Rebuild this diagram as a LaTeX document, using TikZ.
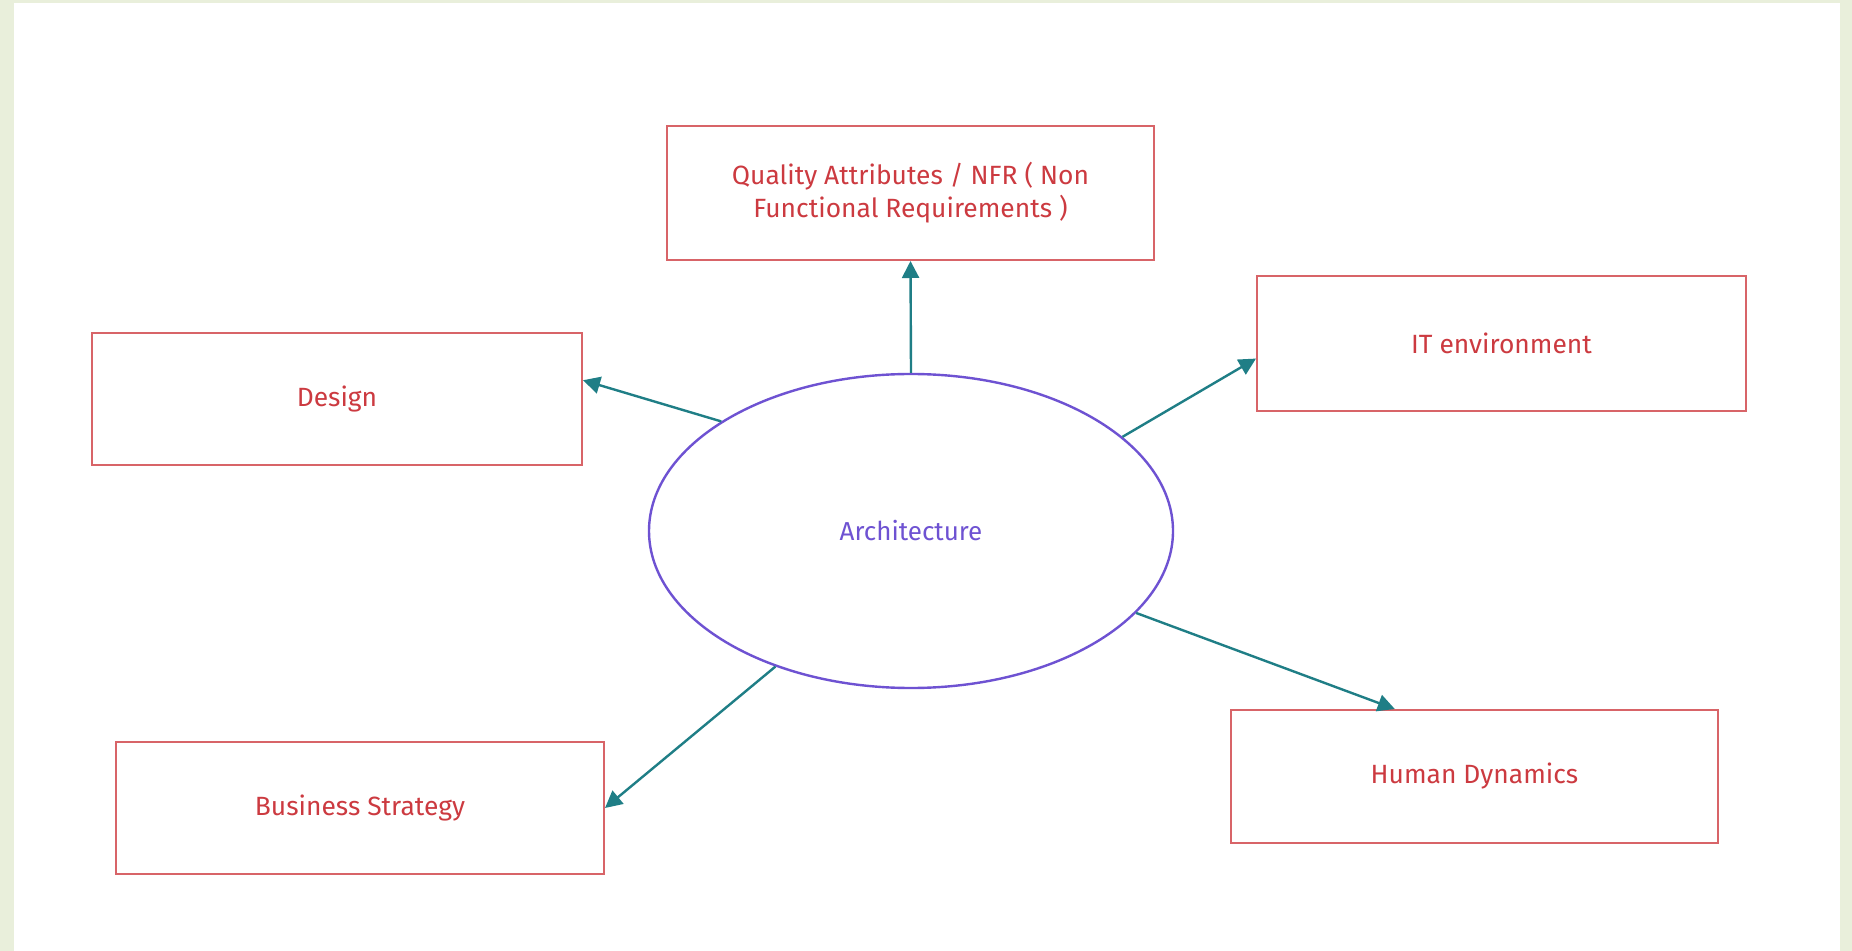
\documentclass[tikz,border=0pt]{standalone}
\usepackage{fontspec}
\setmainfont{Fira Sans}
\usetikzlibrary{arrows.meta,shapes.geometric,calc}
\definecolor{bgc}{HTML}{E9EFDB}
\definecolor{boxred}{HTML}{D86468}
\definecolor{txtred}{HTML}{CC3A40}
\definecolor{archpur}{HTML}{6E52D2}
\definecolor{teal}{HTML}{1F7E86}
\begin{document}
\begin{tikzpicture}[x=0.5pt,y=-0.5pt,
  box/.style={draw=boxred,line width=1pt,rectangle,inner sep=0pt,
    text=txtred,font=\fontsize{13.2}{16.5}\selectfont,align=center},
  arch/.style={draw=archpur,line width=1.2pt,ellipse,inner sep=0pt,
    text=archpur,font=\fontsize{13}{16}\selectfont,
    minimum width=262pt,minimum height=157pt},
  conn/.style={draw=teal,line width=1.2pt,
    -{Triangle[length=8.5pt,width=8.5pt]}}]
\useasboundingbox (0,0) rectangle (1852,951);
\fill[bgc] (0,0) rectangle (1852,951);
\fill[white] (14,3) rectangle (1840,951);

\node[arch] (ar) at (911,531) {Architecture};
\node[box,minimum width=243.5pt,minimum height=67pt] (qa) at (910.5,193)
  {Quality Attributes / NFR ( Non\\Functional Requirements )};
\node[box,minimum width=244.5pt,minimum height=67.5pt] (it) at (1501.5,343.5) {IT environment};
\node[box,minimum width=245pt,minimum height=66pt] (de) at (337,399) {Design};
\node[box,minimum width=244pt,minimum height=66pt] (bs) at (360,808) {Business Strategy};
\node[box,minimum width=243.5pt,minimum height=66.5pt] (hd) at (1474.5,776.5) {Human Dynamics};

\draw[conn] (ar.north) -- (qa.south);
\draw[conn] (ar.150) -- ($(de.north east)!0.36!(de.south east)$);
\draw[conn] (ar.24) -- ($(it.north west)!0.61!(it.south west)$);
\draw[conn] (ar.340.5) -- ($(hd.north west)!0.337!(hd.north east)$);
\draw[conn] (ar.225) -- (bs.east);
\end{tikzpicture}
\end{document}
